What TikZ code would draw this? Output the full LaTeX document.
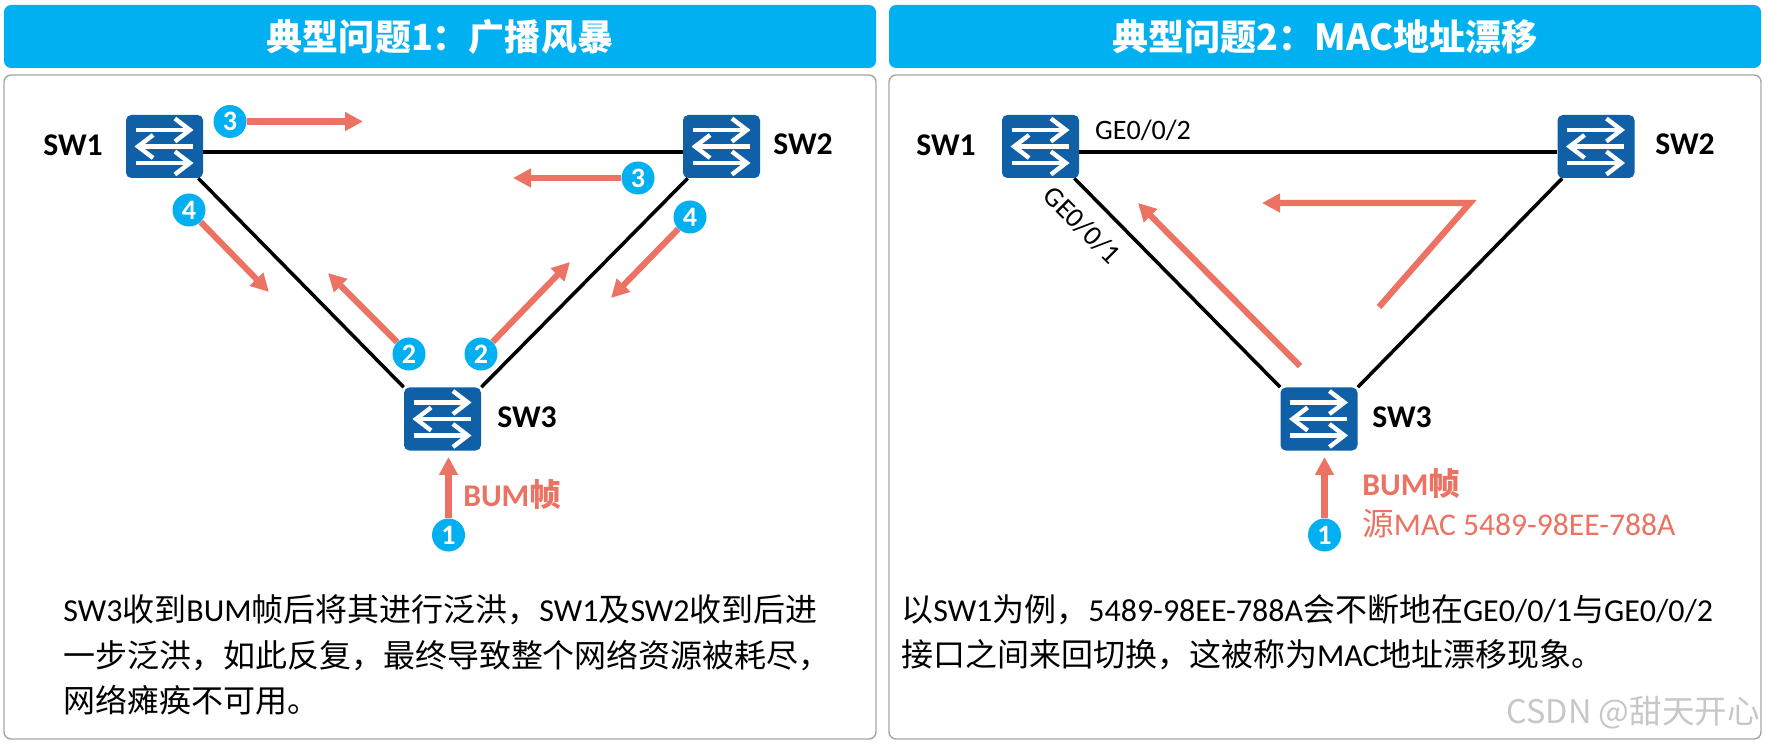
\documentclass[tikz,border=0pt]{standalone}
\usepackage{fontspec}
\setmainfont{Carlito}
\newfontfamily\cjk{Noto Sans CJK SC}
\newcommand{\zh}[1]{{\cjk #1}}
\newcommand{\zhcomma}{\char"FF0C\relax}
\newcommand{\zhcolon}{\char"FF1A\relax}
\usetikzlibrary{arrows.meta, positioning, calc}
\definecolor{headblue}{HTML}{00B0F0}
\definecolor{swblue}{HTML}{1060A8}
\definecolor{flowred}{HTML}{EC7263}
\definecolor{panelgray}{HTML}{A6A6A6}

\begin{document}
\begin{tikzpicture}[
  x=0.02cm, y=-0.02cm,
  head/.style={rectangle, rounded corners=4pt, fill=headblue, minimum width=872*0.02cm, minimum height=63*0.02cm, inner sep=0pt, text=white, font=\fontsize{20.5}{25}\selectfont\bfseries\cjk},
  panel/.style={rectangle, rounded corners=4pt, draw=panelgray, line width=0.8pt, fill=white, minimum width=872*0.02cm, minimum height=664*0.02cm, inner sep=0pt},
  swarr/.style={white, line width=2.5pt, -{Straight Barb[length=3mm,width=4.6mm]}},
  sw/.style={rectangle, rounded corners=3pt, fill=swblue, minimum width=77*0.02cm, minimum height=63*0.02cm, inner sep=0pt,
    path picture={
      \draw[swarr] ([shift={(-29,-16.5)}]path picture bounding box.center) -- ++(58,0);
      \draw[swarr] ([shift={(28,0)}]path picture bounding box.center) -- ++(-58,0);
      \draw[swarr] ([shift={(-29,16.5)}]path picture bounding box.center) -- ++(58,0);
    }},
  swlbl/.style={font=\fontsize{18}{20}\selectfont\bfseries, inner sep=0pt},
  link/.style={black, line width=2pt},
  badge/.style={circle, fill=headblue, minimum size=33*0.02cm, inner sep=0pt, text=white, font=\fontsize{16}{17}\selectfont\bfseries},
  flow/.style={flowred, line width=3.5pt, -{Triangle[length=3.6mm,width=3.6mm]}},
  para/.style={anchor=west, align=left, inner sep=0pt, font=\fontsize{18.2}{25.9}\selectfont},
  bumlbl/.style={anchor=west, align=left, inner sep=0pt, text=flowred},
]
\useasboundingbox (0,0) rectangle (1766,743);

\node[head] (head1) at (440,36.5) {典型问题1\zhcolon 广播风暴};
\node[head] (head2) at (1325,36.5) {典型问题2\zhcolon MAC地址漂移};
\node[panel] (panel1) at (440,407) {};
\node[panel] (panel2) at (1325,407) {};

\node[sw] (sw1) at (164.5,146.5) {};
\node[sw] (sw2) at (721.5,146.5) {};
\node[sw] (sw3) at (442.5,419) {};
\node[swlbl] (name1) at (73,145) {SW1};
\node[swlbl] (name2) at (803,144) {SW2};
\node[swlbl] (name3) at (527,417) {SW3};

\draw[link] ([yshift=-0.11cm]sw1.east) -- ([yshift=-0.11cm]sw2.west);
\draw[link] ([xshift=-0.1cm]sw1.south east) -- (sw3.north west);
\draw[link] ([xshift=0.1cm]sw2.south west) -- (sw3.north east);

\node[badge] (b1) at (448.5,535) {1};
\node[badge] (b2l) at (409,354) {2};
\node[badge] (b2r) at (481,354) {2};
\node[badge] (b3l) at (230,121.5) {3};
\node[badge] (b3r) at (638,178) {3};
\node[badge] (b4l) at (189,210) {4};
\node[badge] (b4r) at (690,217) {4};

\coordinate (t1) at (448.5,457);
\coordinate (t2l) at (328,273);
\coordinate (t2r) at (570,262);
\coordinate (t3l) at (363,121.5);
\coordinate (t3r) at (513,178);
\coordinate (t4l) at (269,292);
\coordinate (t4r) at (611,298);
\draw[flow] (b1) -- (t1);
\draw[flow] (b2l) -- (t2l);
\draw[flow] (b2r) -- (t2r);
\draw[flow] (b3l) -- (t3l);
\draw[flow] (b3r) -- (t3r);
\draw[flow] (b4l) -- (t4l);
\draw[flow] (b4r) -- (t4r);

\node[bumlbl, font=\fontsize{18}{22}\selectfont\bfseries] (bum1) at (463,494) {BUM\zh{帧}};
\node[para] (text1) at (63,655) {SW3\zh{收到}BUM\zh{帧后将其进行泛洪\zhcomma}SW1\zh{及}SW2\zh{收到后进}\\\zh{一步泛洪\zhcomma 如此反复\zhcomma 最终导致整个网络资源被耗尽\zhcomma}\\\zh{网络瘫痪不可用。}};

\node[sw] (sw4) at (1040.5,146.5) {};
\node[sw] (sw5) at (1596,146.5) {};
\node[sw] (sw6) at (1319,419) {};
\node[swlbl] (name4) at (946,145) {SW1};
\node[swlbl] (name5) at (1685,144) {SW2};
\node[swlbl] (name6) at (1402,417) {SW3};

\draw[link] ([yshift=-0.11cm]sw4.east) -- ([yshift=-0.11cm]sw5.west);
\draw[link] ([xshift=-0.1cm]sw4.south east) -- (sw6.north west);
\draw[link] ([xshift=0.1cm]sw5.south west) -- (sw6.north east);

\node[font=\fontsize{16}{18}\selectfont, inner sep=0pt] (port2) at (1143,130) {GE0/0/2};
\node[font=\fontsize{16}{18}\selectfont, inner sep=0pt, rotate=-45] (port1) at (1082,225) {GE0/0/1};

\coordinate (u1) at (1300,366);
\coordinate (u2) at (1138,203);
\coordinate (u3) at (1379,307);
\coordinate (u4) at (1470,203);
\coordinate (u5) at (1262,203);
\draw[flow] (u1) -- (u2);
\draw[flow] (u3) -- (u4) -- (u5);

\node[badge] (b5) at (1324.5,535) {1};
\coordinate (t5) at (1324.5,457);
\draw[flow] (b5) -- (t5);

\node[bumlbl, font=\fontsize{18}{23}\selectfont] (bum2) at (1362,503) {\textbf{BUM\zh{帧}}\\\zh{源}MAC 5489-98EE-788A};
\node[para] (text2) at (901,632) {\zh{以}SW1\zh{为例\zhcomma}5489-98EE-788A\zh{会不断地在}GE0/0/1\zh{与}GE0/0/2\\\zh{接口之间来回切换\zhcomma 这被称为}MAC\zh{地址漂移现象。}};

\node[anchor=east, inner sep=0pt, text=black!22, font=\fontsize{18.5}{22}\selectfont\cjk] (mark) at (1760,713) {CSDN @甜天开心};
\end{tikzpicture}
\end{document}
